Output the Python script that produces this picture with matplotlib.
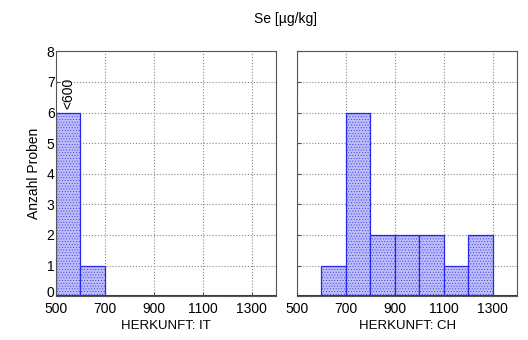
import matplotlib
matplotlib.use("Agg")
import matplotlib.pyplot as plt
import matplotlib.transforms as mtransforms
import numpy as np

plt.rcParams['font.family'] = ['Liberation Sans', 'DejaVu Sans']
plt.rcParams['hatch.color'] = '#8080f0'
plt.rcParams['hatch.linewidth'] = 0.3

bin_left = [500, 600, 700, 800, 900, 1000, 1100, 1200]
counts_it = [6, 1, 0, 0, 0, 0, 0, 0]
counts_ch = [0, 1, 6, 2, 2, 2, 1, 2]
xticks = [500, 700, 900, 1100, 1300]
panels = [("HERKUNFT: IT", counts_it), ("HERKUNFT: CH", counts_ch)]

fig = plt.figure(figsize=(5.28, 3.4), dpi=100)
boxes = [[0.106, 0.129, 0.417, 0.72], [0.5625, 0.129, 0.417, 0.72]]
fs = 10

for i, (label, counts) in enumerate(panels):
    ax = fig.add_axes(boxes[i])
    ax.set_xlim(500, 1400)
    ax.set_ylim(0, 8)
    ax.set_xticks(xticks)
    ax.set_xticks([600, 800, 1000, 1200, 1400], minor=True)
    ax.set_yticks(range(0, 9))
    ax.grid(True, which='major', color='#888888', linestyle=':', linewidth=0.8)
    ax.set_axisbelow(True)
    for l, c in zip(bin_left, counts):
        if c > 0:
            ax.bar(l, c, width=100, align='edge', facecolor='#bcbcf8',
                   edgecolor='#2828e8', linewidth=0.9, hatch='......', zorder=2)
    ax.axhline(0, color='#2828e8', linewidth=1.5, zorder=3)
    ax.tick_params(direction='in', labelsize=fs, length=3, color='#555555', pad=1)
    ax.tick_params(axis='x', pad=4)
    ax.tick_params(which='minor', length=0)
    for s in ax.spines.values():
        s.set_color('#555555')
        s.set_linewidth(0.8)
    ax.set_xlabel(label, fontsize=fs - 0.5, labelpad=3)
    if i == 0:
        ax.set_ylabel("Anzahl Proben", fontsize=fs, labelpad=4)
        ax.text(550, counts[0] + 0.12, "<600", rotation=90, ha='center', va='bottom', fontsize=fs)
        lab0 = ax.get_yticklabels()[0]
        lab0.set_transform(lab0.get_transform() + mtransforms.ScaledTranslation(0, 3 / 72, fig.dpi_scale_trans))
    else:
        ax.set_yticklabels([])

fig.text(0.54, 0.945, "Se [µg/kg]", ha='center', va='center', fontsize=fs)

fig.savefig("out.png", dpi=100)
